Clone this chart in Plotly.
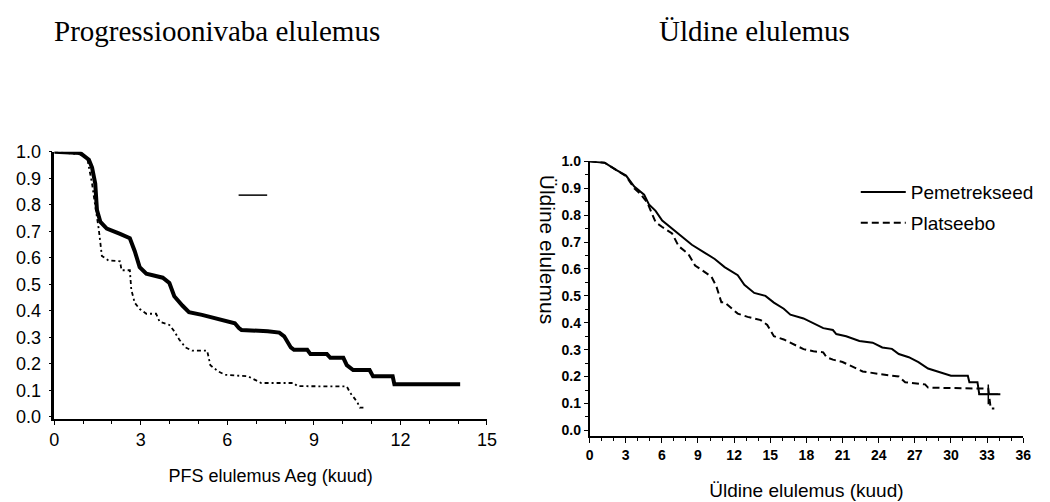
import plotly.graph_objects as go

# ---- Data ----
# Left panel: Progression-free survival (months, survival probability)
pfs_pem_x = [0, 0.9, 1.2, 1.31, 1.42, 1.48, 1.6, 1.82, 2.28, 2.62, 2.79, 2.96, 3.19, 3.76, 3.99,
             4.16, 4.44, 4.67, 5.12, 5.81, 6.26, 6.4, 6.49, 7.4, 7.8, 7.97, 8.2, 8.31, 8.77, 8.88,
             9.45, 9.57, 10.02, 10.14, 10.36, 10.93, 11.05, 11.73, 11.79, 14.07]
pfs_pem_y = [1.0, 0.995, 0.97, 0.94, 0.88, 0.78, 0.735, 0.71, 0.69, 0.674, 0.625, 0.565, 0.54, 0.525, 0.505,
             0.455, 0.42, 0.395, 0.385, 0.365, 0.353, 0.335, 0.328, 0.323, 0.318, 0.304, 0.262, 0.253, 0.253, 0.237,
             0.237, 0.223, 0.223, 0.195, 0.177, 0.177, 0.153, 0.153, 0.123, 0.123]

pfs_pla_x = [0, 0.9, 1.14, 1.31, 1.42, 1.54, 1.65, 1.88, 2.28, 2.33, 2.62, 2.67, 2.79, 2.96, 3.19, 3.53,
             3.65, 3.99, 4.16, 4.33, 4.55, 4.78, 5.3, 5.41, 5.69, 5.92, 6.72, 6.94, 7.17, 8.3, 8.43,
             10.14, 10.25, 10.42, 10.53, 10.59, 10.8]
pfs_pla_y = [1.0, 0.99, 0.977, 0.88, 0.795, 0.71, 0.607, 0.59, 0.587, 0.553, 0.553, 0.48, 0.43, 0.407, 0.389, 0.389,
             0.359, 0.347, 0.323, 0.292, 0.262, 0.25, 0.25, 0.195, 0.171, 0.159, 0.153, 0.141, 0.128, 0.128, 0.116,
             0.115, 0.092, 0.068, 0.05, 0.035, 0.035]

# Right panel: Overall survival
os_pem_x = [0, 1.25, 2.2, 3.03, 3.71, 4.53, 4.93, 5.48, 6.03, 6.85, 7.67, 8.49, 9.57, 10.39, 11.21, 12.3,
            12.85, 13.67, 14.6, 15.3, 16.12, 16.67, 17.76, 18.58, 19.4, 20.2, 20.48, 21.3, 22.4, 23.5, 24.3,
            25.1, 25.67, 26.5, 27.3, 28.1, 28.9, 30.0, 31.4, 31.53, 32.2, 32.35, 34.1]
os_pem_y = [1.0, 0.995, 0.968, 0.947, 0.906, 0.876, 0.84, 0.816, 0.78, 0.75, 0.72, 0.69, 0.66, 0.637, 0.607, 0.577,
            0.541, 0.511, 0.5, 0.475, 0.452, 0.43, 0.416, 0.398, 0.38, 0.373, 0.358, 0.35, 0.332, 0.326, 0.308,
            0.303, 0.284, 0.272, 0.254, 0.23, 0.219, 0.203, 0.203, 0.179, 0.179, 0.134, 0.134]

os_pla_x = [0, 1.25, 2.2, 3.03, 3.71, 4.2, 4.8, 5.48, 6.03, 6.85, 7.39, 8.21, 8.76, 9.3, 10.12, 10.53, 10.94,
            11.21, 11.62, 12.3, 13.12, 14.21, 14.75, 15.3, 16.12, 16.94, 17.76, 18.58, 19.4, 19.67, 20.2, 21.0,
            21.85, 22.67, 24.0, 25.67, 26.2, 27.85, 28.1, 32.2, 33.1, 33.3, 33.6]
os_pla_y = [1.0, 0.995, 0.968, 0.945, 0.9, 0.88, 0.846, 0.774, 0.756, 0.732, 0.685, 0.655, 0.613, 0.595, 0.571, 0.535, 0.476,
            0.476, 0.461, 0.434, 0.422, 0.41, 0.392, 0.35, 0.338, 0.32, 0.302, 0.294, 0.29, 0.272, 0.263, 0.254,
            0.237, 0.219, 0.21, 0.2, 0.179, 0.171, 0.159, 0.157, 0.155, 0.081, 0.081]

os_cens_x = [33.1]
os_cens_y = [0.134]

pfs_xticks = [0, 3, 6, 9, 12, 15]
os_xticks = [0, 3, 6, 9, 12, 15, 18, 21, 24, 27, 30, 33, 36]
y_ticks = [0.0, 0.1, 0.2, 0.3, 0.4, 0.5, 0.6, 0.7, 0.8, 0.9, 1.0]

title_left = "Progressioonivaba elulemus"
title_right = "Üldine elulemus"
xlabel_left = "PFS elulemus Aeg (kuud)"
xlabel_right = "Üldine elulemus (kuud)"
ylabel_right = "Üldine elulemus"
names = ["Pemetrekseed", "Platseebo"]

# ---- Figure ----
fig = go.Figure()

fig.add_trace(go.Scatter(x=pfs_pem_x, y=pfs_pem_y, mode="lines", xaxis="x", yaxis="y",
                         line=dict(color="black", width=4), showlegend=False, hoverinfo="skip"))
fig.add_trace(go.Scatter(x=pfs_pla_x, y=pfs_pla_y, mode="lines", xaxis="x", yaxis="y",
                         line=dict(color="black", width=1.8, dash="4px,3px,2px,3px"), showlegend=False,
                         hoverinfo="skip"))

fig.add_trace(go.Scatter(x=os_pem_x, y=os_pem_y, mode="lines", xaxis="x2", yaxis="y2", name=names[0],
                         legendgroup="a", line=dict(color="black", width=2)))
fig.add_trace(go.Scatter(x=os_pla_x, y=os_pla_y, mode="lines", xaxis="x2", yaxis="y2", name=names[1],
                         legendgroup="b", line=dict(color="black", width=2, dash="7px,4px")))
fig.add_trace(go.Scatter(x=os_cens_x, y=os_cens_y, mode="markers", xaxis="x2", yaxis="y2", showlegend=False,
                         marker=dict(symbol="cross-thin", size=14, line=dict(color="black", width=1.5))))

axis_common = dict(showline=True, linecolor="black", ticks="outside", tickcolor="black",
                   showgrid=False, zeroline=False, mirror=False)

fig.update_layout(
    width=1050, height=502, margin=dict(l=0, r=0, t=0, b=0),
    paper_bgcolor="white", plot_bgcolor="white",
    font=dict(family="Liberation Sans, Arial, sans-serif", color="black"),
    xaxis=dict(domain=[0.0476, 0.4657], range=[0, 15], tickvals=pfs_xticks, ticklen=4, linewidth=1.5,
               tickfont=dict(size=18), minor=dict(dtick=1, ticklen=3, ticks="outside", tickcolor="black"),
               title=dict(text=xlabel_left, font=dict(size=18), standoff=20), anchor="y", **axis_common),
    yaxis=dict(domain=[0.1554, 0.7072], range=[-0.007, 1.0], tickvals=y_ticks, tickformat=".1f", ticklen=3,
               linewidth=2.5, tickfont=dict(size=18), ticklabelstandoff=4, anchor="x", **axis_common),
    xaxis2=dict(domain=[0.5648, 0.9838], range=[0, 36], tickvals=os_xticks, ticklen=5, linewidth=1.5,
                tickfont=dict(size=14, weight="bold"),
                minor=dict(dtick=1, ticklen=3, ticks="outside", tickcolor="black"),
                title=dict(text=xlabel_right, font=dict(size=19), standoff=22), anchor="y2", **axis_common),
    yaxis2=dict(domain=[0.1195, 0.6873], range=[-0.0215, 1.0], tickvals=y_ticks, tickformat=".1f", ticklen=4,
                linewidth=1.5, tickfont=dict(size=14, weight="bold"), ticklabelstandoff=0,
                minor=dict(dtick=0.05, ticklen=3, ticks="outside", tickcolor="black"),
                anchor="x2", **axis_common),
    legend=dict(x=0.822, y=0.663, xanchor="left", yanchor="top", bgcolor="rgba(0,0,0,0)",
                font=dict(size=19), itemwidth=45, traceorder="grouped", tracegroupgap=3),
    showlegend=True,
)

fig.add_annotation(x=0.2048, y=0.956, xref="paper", yref="paper", xanchor="center", yanchor="middle",
                   text=title_left, showarrow=False,
                   font=dict(family="Liberation Serif, Times New Roman, serif", size=29))
fig.add_annotation(x=0.7238, y=0.956, xref="paper", yref="paper", xanchor="center", yanchor="middle",
                   text=title_right, showarrow=False,
                   font=dict(family="Liberation Serif, Times New Roman, serif", size=29))
fig.add_annotation(x=0.5245, y=0.505, xref="paper", yref="paper", xanchor="center", yanchor="middle",
                   text=ylabel_right, showarrow=False, textangle=90, font=dict(size=21))

# stray legend line in the left panel
fig.add_shape(type="line", xref="paper", yref="paper", x0=0.2257, x1=0.2533, y0=0.6175, y1=0.6175,
              line=dict(color="black", width=1.5))

fig.write_html("out.html")
